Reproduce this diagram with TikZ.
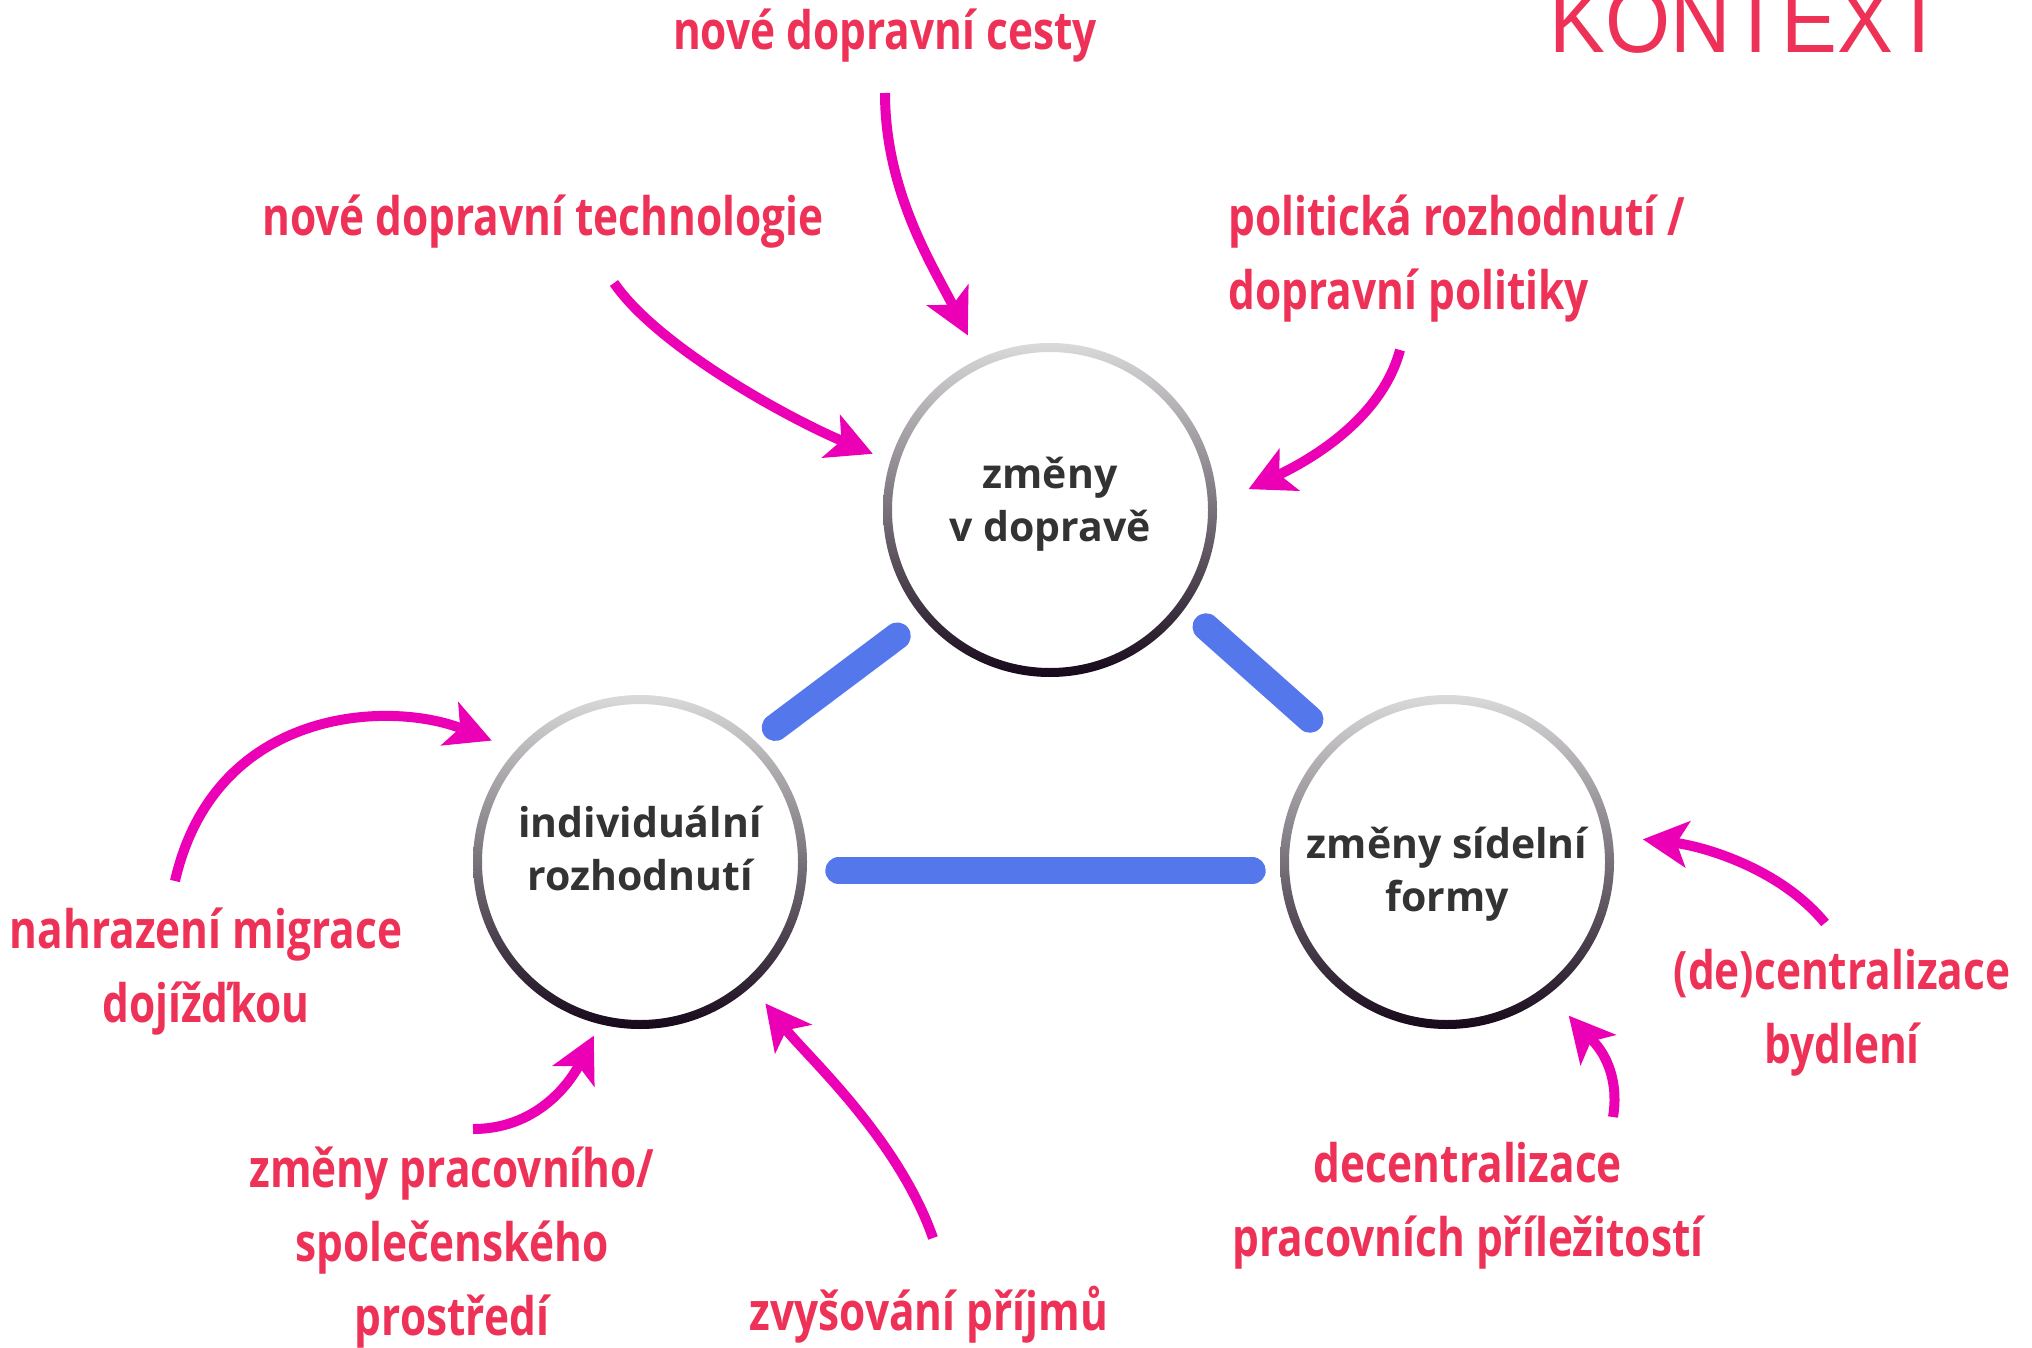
\documentclass[tikz,border=0pt]{standalone}
\usepackage{fontspec}
\usepackage{tikz}
\usetikzlibrary{arrows.meta}
\setmainfont{Open Sans}
\newfontfamily\labelfont[FakeStretch=0.80]{Open Sans}
\newfontfamily\titlefont[FakeStretch=0.91]{Liberation Sans}
\definecolor{crimson}{RGB}{238, 49, 86}
\definecolor{pinkarrow}{RGB}{236, 0, 182}
\definecolor{barblue}{RGB}{85, 119, 236}
\definecolor{ringtop}{RGB}{218, 218, 218}
\definecolor{ringbot}{RGB}{22, 8, 26}
\definecolor{hubtext}{RGB}{51, 51, 51}
\newcommand{\hubring}[1]{%
  \shade[top color=ringtop, bottom color=ringbot, even odd rule]
    (#1.center) circle[radius=167] (#1.center) circle[radius=158];}

\begin{document}
\begin{tikzpicture}[x=1pt, y=-1pt,
  hub/.style={circle, minimum size=334pt, inner sep=0pt, outer sep=0pt},
  hubtitle/.style={align=center, text=hubtext, inner sep=0pt,
    font=\bfseries\fontsize{41}{53}\selectfont},
  factor/.style={align=center, text=crimson,
    font=\labelfont\bfseries\fontsize{53}{74}\selectfont},
  push/.style={draw=pinkarrow, line width=10pt,
    -{Stealth[length=45pt, width=46pt, inset=11pt]}},
  link/.style={draw=barblue, line width=27pt, line cap=round}]

  \useasboundingbox (0,0) rectangle (2032,1348);

  % the three circles
  \node[hub, label={[hubtitle, yshift=6pt]center:změny\\v dopravě}] (doprava) at (1050,510) {};
  \node[hub, label={[hubtitle, yshift=14pt]center:individuální\\rozhodnutí}] (jednotlivec) at (640,862) {};
  \node[hub, label={[hubtitle, yshift=-12pt]center:změny sídelní\\formy}] (sidla) at (1447,862) {};
  \foreach \h in {doprava, jednotlivec, sidla} {\hubring{\h}}

  % links between them
  \draw[link, shorten <=24pt, shorten >=31pt] (jednotlivec.46) -- (doprava.220);
  \draw[link, shorten <=28pt, shorten >=31pt] (doprava.-36.4) -- (sidla.133.3);
  \draw[link, shorten <=32pt, shorten >=28pt] (jednotlivec.-3) -- (sidla.183);

  % context factors
  \node[factor] (cesty) at (885,36) {nové dopravní cesty};
  \node[factor] (technologie) at (543,222) {nové dopravní technologie};
  \node[factor, align=left, anchor=west] (politika) at (1225,259)
    {politická rozhodnutí /\\dopravní politiky};
  \node[factor] (migrace) at (206,972) {nahrazení migrace\\dojížďkou};
  \node[factor] (prostredi) at (452,1248)
    {změny pracovního/\\společenského\\prostředí};
  \node[factor] (prijmy) at (929,1315) {zvyšování příjmů};
  \node[factor] (prilezitosti) at (1468,1206)
    {decentralizace\\pracovních příležitostí};
  \node[factor] (bydleni) at (1842,1013) {(de)centralizace\\bydlení};
  \node[text=crimson, font=\titlefont\fontsize{92}{92}\selectfont,
    anchor=base west, inner sep=0pt] (kontext) at (1549,53) {KONTEXT};

  % arrow starts
  \coordinate (od-cest) at (885,93);
  \coordinate (od-technologii) at (614,283);
  \coordinate (od-politiky) at (1400,350);
  \coordinate (od-migrace) at (175,881);
  \coordinate (od-prostredi) at (473,1129);
  \coordinate (od-prijmu) at (933,1238);
  \coordinate (od-bydleni) at (1825,923);
  \coordinate (od-prilezitosti) at (1613,1117);

  % influences
  \draw[push, shorten >=26pt] (od-cest) .. controls +(0,100) and +(-45,-90) .. (doprava.115.8);
  \draw[push, shorten >=19pt] (od-technologii) .. controls +(45,65) and +(-100,-42) .. (doprava.163.8);
  \draw[push, shorten >=35pt] (od-politiky) .. controls +(-20,75) and +(80,-38) .. (doprava.2);
  \draw[push, shorten >=26pt] (od-migrace) .. controls +(40,-175) and +(-125,-50) .. (jednotlivec.138);
  \draw[push, shorten >=13pt] (od-prostredi) .. controls +(70,0) and +(-25,50) .. (jednotlivec.256.8);
  \draw[push, shorten >=22pt] (od-prijmu) .. controls +(-35,-100) and +(55,70) .. (jednotlivec.-48.6);
  \draw[push, shorten >=31pt] (od-bydleni) .. controls +(-45,-55) and +(90,10) .. (sidla.9);
  \draw[push, shorten >=29pt] (od-prilezitosti) .. controls +(10,-60) and +(30,35) .. (sidla.-52.2);

\end{tikzpicture}
\end{document}
